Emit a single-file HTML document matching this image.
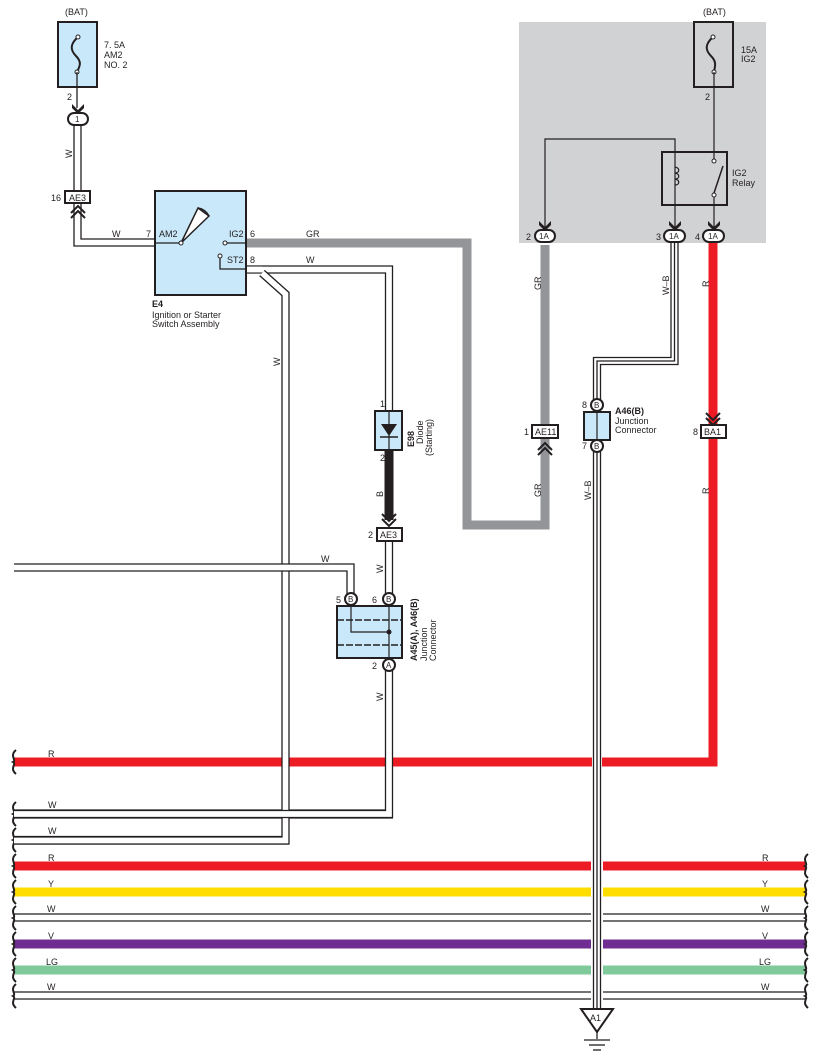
<!DOCTYPE html>
<html><head><meta charset="utf-8"><style>
body{margin:0;background:#fff}
svg{display:block}
text{font-family:"Liberation Sans",Arial,sans-serif;font-size:9px;fill:#231f20}
.b{font-weight:bold}
</style></head><body>
<svg width="818" height="1062" viewBox="0 0 818 1062" xmlns="http://www.w3.org/2000/svg">
<defs>
<g id="wave"><path d="M3,-12 C-4,-6 4,-2 0,0 C4,2 -4,6 3,12" fill="none" stroke="#231f20" stroke-width="2"/></g>
<path id="dnarr" d="M-6,-6 L0,0 L6,-6 L6,-2 L0,4 L-6,-2Z" fill="#231f20"/>
</defs>
<rect x="519" y="22" width="247" height="221" fill="#d1d2d4"/>

<g>
<line x1="14" y1="762" x2="716" y2="762" stroke="#ed1c24" stroke-width="9"/>
<line x1="14" y1="810" x2="385" y2="810" stroke="#231f20" stroke-width="1.3"/>
<line x1="14" y1="818" x2="393" y2="818" stroke="#231f20" stroke-width="1.3"/>
<line x1="14" y1="836.5" x2="282" y2="836.5" stroke="#231f20" stroke-width="1.3"/>
<line x1="14" y1="844" x2="289" y2="844" stroke="#231f20" stroke-width="1.3"/>
<line x1="14" y1="866" x2="805" y2="866" stroke="#ed1c24" stroke-width="9"/>
<line x1="14" y1="892" x2="805" y2="892" stroke="#ffdd00" stroke-width="9"/>
<line x1="14" y1="914" x2="805" y2="914" stroke="#231f20" stroke-width="1.3"/>
<line x1="14" y1="921" x2="805" y2="921" stroke="#231f20" stroke-width="1.3"/>
<line x1="14" y1="944" x2="805" y2="944" stroke="#6f2c91" stroke-width="9"/>
<line x1="14" y1="970" x2="805" y2="970" stroke="#80c99b" stroke-width="9"/>
<line x1="14" y1="992" x2="805" y2="992" stroke="#231f20" stroke-width="1.3"/>
<line x1="14" y1="999" x2="805" y2="999" stroke="#231f20" stroke-width="1.3"/>
<use href="#wave" x="13" y="762"/><use href="#wave" x="13" y="814"/><use href="#wave" x="13" y="840"/>
<use href="#wave" x="13" y="866"/><use href="#wave" x="13" y="892"/><use href="#wave" x="13" y="918"/>
<use href="#wave" x="13" y="944"/><use href="#wave" x="13" y="970"/><use href="#wave" x="13" y="996"/>
<use href="#wave" x="805" y="866"/><use href="#wave" x="805" y="892"/><use href="#wave" x="805" y="918"/>
<use href="#wave" x="805" y="944"/><use href="#wave" x="805" y="970"/><use href="#wave" x="805" y="996"/>
<text x="48" y="757">R</text><text x="48" y="808">W</text><text x="48" y="834">W</text>
<text x="48" y="861">R</text><text x="48" y="887">Y</text><text x="47" y="912">W</text>
<text x="48" y="939">V</text><text x="46" y="965">LG</text><text x="47" y="990">W</text>
<text x="762" y="861">R</text><text x="762" y="887">Y</text><text x="761" y="912">W</text>
<text x="762" y="939">V</text><text x="759" y="965">LG</text><text x="761" y="990">W</text>
</g>

<polyline points="246,243 467,243 467,525 545,525 545,245" fill="none" stroke="#939598" stroke-width="9"/>
<polyline points="713,240 713,762 710,762" fill="none" stroke="#ed1c24" stroke-width="9"/>

<g fill="none" stroke-linejoin="miter">
<polyline points="77.5,126 77.5,242.5 155,242.5" stroke="#231f20" stroke-width="8.3"/>
<polyline points="77.5,126 77.5,242.5 155,242.5" stroke="#fff" stroke-width="5.7"/>
<polyline points="246,269.5 389,269.5 389,410" stroke="#231f20" stroke-width="8.3"/>
<polyline points="246,269.5 389,269.5 389,410" stroke="#fff" stroke-width="5.7"/>
<polyline points="262,273 285.5,294 285.5,840.5 14,840.5" stroke="#231f20" stroke-width="8.3"/>
<polyline points="262,273 285.5,294 285.5,840.5 14,840.5" stroke="#fff" stroke-width="5.7"/>
<polyline points="389,541 389,600" stroke="#231f20" stroke-width="8.3"/>
<polyline points="389,541 389,600" stroke="#fff" stroke-width="5.7"/>
<polyline points="389,670 389,814 14,814" stroke="#231f20" stroke-width="8.3"/>
<polyline points="389,670 389,814 14,814" stroke="#fff" stroke-width="5.7"/>
<polyline points="14,567.5 350.5,567.5 350.5,600" stroke="#231f20" stroke-width="8.3"/>
<polyline points="14,567.5 350.5,567.5 350.5,600" stroke="#fff" stroke-width="5.7"/>
<line x1="246" y1="269.5" x2="262" y2="269.5" stroke="#fff" stroke-width="5.7"/>
</g>
<line x1="389" y1="450" x2="389" y2="520" stroke="#231f20" stroke-width="9"/>

<g fill="none">
<polyline points="674.5,241 674.5,361 597,361 597,400" stroke="#231f20" stroke-width="8.3"/>
<polyline points="674.5,241 674.5,361 597,361 597,400" stroke="#fff" stroke-width="5.7"/>
<polyline points="674.5,241 674.5,361 597,361 597,400" stroke="#231f20" stroke-width="1.3"/>
<line x1="597" y1="856" x2="597" y2="1008" stroke="#fff" stroke-width="12"/>
<line x1="597" y1="756" x2="597" y2="768" stroke="#fff" stroke-width="10"/>
<line x1="597" y1="452" x2="597" y2="1010" stroke="#231f20" stroke-width="8.3"/>
<line x1="597" y1="452" x2="597" y2="1010" stroke="#fff" stroke-width="5.7"/>
<line x1="597" y1="452" x2="597" y2="1010" stroke="#231f20" stroke-width="1.3"/>
</g>

<text x="65" y="15">(BAT)</text>
<rect x="58" y="22" width="39" height="65" fill="#c9e8f9" stroke="#231f20" stroke-width="2"/>
<path d="M78,37 C70,44 70,50 76,56 C82,62 80,66 77,72" fill="none" stroke="#231f20" stroke-width="2"/>
<circle cx="78" cy="37" r="2" fill="#fff" stroke="#231f20"/><circle cx="77" cy="72" r="2" fill="#fff" stroke="#231f20"/>
<line x1="77" y1="72" x2="77" y2="108" stroke="#231f20" stroke-width="1.3"/>
<text x="104" y="48">7. 5A</text><text x="104" y="58">AM2</text><text x="104" y="68">NO. 2</text>
<text x="67" y="100">2</text>
<use href="#dnarr" x="78" y="110"/>
<rect x="68" y="113" width="20" height="12" rx="6" fill="#fff" stroke="#231f20" stroke-width="2"/>
<text x="75" y="122" style="font-size:8px">1</text>
<text x="72" y="158" transform="rotate(-90 72 158)">W</text>
<rect x="65" y="191" width="25" height="12" fill="#fff" stroke="#231f20" stroke-width="2"/>
<text x="69" y="201">AE3</text><text x="51" y="201">16</text>
<path d="M71,213 L78,206 L85,213 M71,218 L78,211 L85,218" fill="none" stroke="#231f20" stroke-width="2"/>
<text x="112" y="237">W</text>

<rect x="155" y="191" width="91" height="104" fill="#c9e8f9" stroke="#231f20" stroke-width="2"/>
<line x1="155" y1="243" x2="181" y2="243" stroke="#231f20" stroke-width="1.3"/>
<path d="M181,243 L198,208 L209,216 Z" fill="#fff" stroke="#231f20" stroke-width="1.5"/>
<path d="M198,208 Q205,209 209,216" fill="none" stroke="#231f20" stroke-width="1.5"/>
<circle cx="181" cy="243" r="2" fill="#fff" stroke="#231f20"/>
<circle cx="225" cy="243" r="2" fill="#fff" stroke="#231f20"/>
<line x1="227" y1="243" x2="246" y2="243" stroke="#231f20" stroke-width="1.3"/>
<circle cx="220" cy="256" r="2" fill="#fff" stroke="#231f20"/>
<polyline points="220,258 220,269 246,269" fill="none" stroke="#231f20" stroke-width="1.3"/>
<text x="159" y="237">AM2</text><text x="146" y="237">7</text>
<text x="229" y="237">IG2</text><text x="250" y="237">6</text>
<text x="227" y="263">ST2</text><text x="250" y="263">8</text>
<text x="306" y="237">GR</text><text x="306" y="263">W</text>
<text x="152" y="307" class="b">E4</text>
<text x="152" y="318">Ignition or Starter</text><text x="152" y="327">Switch Assembly</text>
<text x="280" y="366" transform="rotate(-90 280 366)">W</text>

<text x="380" y="407">1</text>
<rect x="375" y="411" width="27" height="39" fill="#c9e8f9" stroke="#231f20" stroke-width="2"/>
<line x1="389" y1="411" x2="389" y2="450" stroke="#231f20" stroke-width="1.2"/>
<path d="M381,424 L397,424 L389,436 Z" fill="#231f20"/>
<line x1="380" y1="437" x2="398" y2="437" stroke="#231f20" stroke-width="1.5"/>
<text x="380" y="461">2</text>
<text x="414" y="447" class="b" transform="rotate(-90 414 447)">E98</text>
<text x="423" y="444" transform="rotate(-90 423 444)">Diode</text>
<text x="432" y="456" transform="rotate(-90 432 456)">(Starting)</text>
<text x="383" y="497" transform="rotate(-90 383 497)">B</text>
<path d="M382,514 L389,521 L396,514 M382,519 L389,526 L396,519" fill="none" stroke="#231f20" stroke-width="2"/>
<rect x="377" y="528" width="25" height="13" fill="#fff" stroke="#231f20" stroke-width="2"/>
<text x="380" y="538">AE3</text><text x="368" y="538">2</text>
<text x="383" y="573" transform="rotate(-90 383 573)">W</text>
<text x="321" y="562">W</text>

<rect x="337" y="606" width="65" height="52" fill="#c9e8f9" stroke="#231f20" stroke-width="2"/>
<line x1="337" y1="620" x2="402" y2="620" stroke="#231f20" stroke-width="1.5" stroke-dasharray="7,2"/>
<line x1="337" y1="645" x2="402" y2="645" stroke="#231f20" stroke-width="1.5" stroke-dasharray="7,2"/>
<polyline points="351,606 351,632 389,632" fill="none" stroke="#231f20" stroke-width="1.2"/>
<line x1="389" y1="606" x2="389" y2="658" stroke="#231f20" stroke-width="1.2"/>
<circle cx="389" cy="632" r="2.5" fill="#231f20"/>
<circle cx="351" cy="599" r="6" fill="#fff" stroke="#231f20" stroke-width="2"/><text x="348" y="602" style="font-size:8px">B</text>
<circle cx="389" cy="599" r="6" fill="#fff" stroke="#231f20" stroke-width="2"/><text x="386" y="602" style="font-size:8px">B</text>
<circle cx="389" cy="665" r="6" fill="#fff" stroke="#231f20" stroke-width="2"/><text x="386" y="668" style="font-size:8px">A</text>
<text x="336" y="603">5</text><text x="372" y="603">6</text><text x="372" y="669">2</text>
<text x="417" y="661" class="b" transform="rotate(-90 417 661)">A45(A), A46(B)</text>
<text x="427" y="661" transform="rotate(-90 427 661)">Junction</text>
<text x="436" y="661" transform="rotate(-90 436 661)">Connector</text>
<text x="383" y="701" transform="rotate(-90 383 701)">W</text>

<rect x="532" y="425" width="26" height="13" fill="#fff" stroke="#231f20" stroke-width="2"/>
<text x="535" y="435">AE11</text><text x="524" y="435">1</text>
<path d="M538,450 L545,443 L552,450 M538,455 L545,448 L552,455" fill="none" stroke="#231f20" stroke-width="2"/>
<text x="541" y="290" transform="rotate(-90 541 290)">GR</text>
<text x="541" y="497" transform="rotate(-90 541 497)">GR</text>

<rect x="584" y="412" width="26" height="28" fill="#c9e8f9" stroke="#231f20" stroke-width="2"/>
<line x1="597" y1="412" x2="597" y2="440" stroke="#231f20" stroke-width="1.2"/>
<circle cx="597" cy="405" r="6" fill="#fff" stroke="#231f20" stroke-width="2"/><text x="594" y="408" style="font-size:8px">B</text>
<circle cx="597" cy="446" r="6" fill="#fff" stroke="#231f20" stroke-width="2"/><text x="594" y="449" style="font-size:8px">B</text>
<text x="582" y="408">8</text><text x="582" y="449">7</text>
<text x="615" y="414" class="b">A46(B)</text><text x="615" y="424">Junction</text><text x="615" y="433">Connector</text>
<text x="591" y="500" transform="rotate(-90 591 500)">W–B</text>
<text x="669" y="295" transform="rotate(-90 669 295)">W–B</text>

<path d="M581,1009 L613,1009 L597,1032 Z" fill="#fff" stroke="#231f20" stroke-width="2"/>
<text x="590" y="1021">A1</text>
<line x1="597" y1="1032" x2="597" y2="1039" stroke="#231f20" stroke-width="1.3"/>
<line x1="584" y1="1040" x2="610" y2="1040" stroke="#231f20" stroke-width="1.3"/>
<line x1="589" y1="1045" x2="605" y2="1045" stroke="#231f20" stroke-width="1.3"/>
<line x1="593" y1="1050" x2="601" y2="1050" stroke="#231f20" stroke-width="1.3"/>

<text x="703" y="15">(BAT)</text>
<rect x="694" y="22" width="39" height="65" fill="#d1d2d4" stroke="#231f20" stroke-width="2"/>
<path d="M713,37 C705,44 705,50 711,56 C717,62 715,66 714,72" fill="none" stroke="#231f20" stroke-width="2"/>
<circle cx="713" cy="37" r="2" fill="#fff" stroke="#231f20"/><circle cx="714" cy="72" r="2" fill="#fff" stroke="#231f20"/>
<text x="741" y="53">15A</text><text x="741" y="62">IG2</text>
<text x="705" y="100">2</text>
<line x1="714" y1="72" x2="714" y2="160" stroke="#231f20" stroke-width="1.2"/>
<rect x="662" y="152" width="65" height="53" fill="none" stroke="#231f20" stroke-width="2"/>
<polyline points="545,228 545,139 675,139 675,228" fill="none" stroke="#231f20" stroke-width="1.2"/>
<path d="M675,167 c5,1 5,6 0,6 c5,1 5,6 0,6 c5,1 5,6 0,6" fill="none" stroke="#231f20" stroke-width="1.2"/>
<circle cx="714" cy="161" r="2" fill="#fff" stroke="#231f20"/>
<circle cx="714" cy="195" r="2" fill="#fff" stroke="#231f20"/>
<line x1="714" y1="193" x2="723" y2="166" stroke="#231f20" stroke-width="1.5"/>
<line x1="714" y1="197" x2="714" y2="228" stroke="#231f20" stroke-width="1.2"/>
<text x="732" y="176">IG2</text><text x="732" y="186">Relay</text>
<use href="#dnarr" x="545" y="227"/><use href="#dnarr" x="675" y="227"/><use href="#dnarr" x="714" y="227"/>
<rect x="535" y="230" width="20" height="12" rx="6" fill="#fff" stroke="#231f20" stroke-width="2"/><text x="539" y="239" style="font-size:8px">1A</text>
<rect x="664" y="230" width="21" height="12" rx="6" fill="#fff" stroke="#231f20" stroke-width="2"/><text x="669" y="239" style="font-size:8px">1A</text>
<rect x="703" y="230" width="21" height="12" rx="6" fill="#fff" stroke="#231f20" stroke-width="2"/><text x="708" y="239" style="font-size:8px">1A</text>
<text x="526" y="240">2</text><text x="656" y="240">3</text><text x="695" y="240">4</text>
<text x="709" y="287" transform="rotate(-90 709 287)">R</text>
<text x="709" y="494" transform="rotate(-90 709 494)">R</text>
<path d="M706,413 L713,420 L720,413 M706,418 L713,425 L720,418" fill="none" stroke="#231f20" stroke-width="2"/>
<rect x="701" y="425" width="25" height="13" fill="#fff" stroke="#231f20" stroke-width="2"/>
<text x="704" y="435">BA1</text><text x="693" y="435">8</text>
</svg>
</body></html>
